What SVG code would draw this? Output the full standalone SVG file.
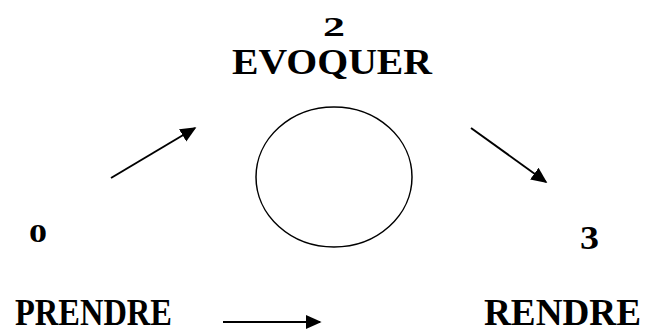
<svg xmlns="http://www.w3.org/2000/svg" width="653" height="332" viewBox="0 0 653 332">
<style>
text{font-family:"Liberation Serif","Times New Roman",serif;font-weight:bold;fill:#000}
.big{font-size:38px}
.evo{font-size:36px}
.num{font-size:28px}
.c{stroke:#000;stroke-width:2;fill:none}
</style>
<defs>
<marker id="ah" viewBox="0 0 10 10" refX="9" refY="5" markerWidth="8" markerHeight="8" orient="auto" markerUnits="strokeWidth"><path d="M0,0.5 L10,5 L0,9.5 Z" fill="#000"/></marker>
</defs>
<rect width="653" height="332" fill="#fff"/>
<g id="node-evoquer">
<text class="num" x="323" y="36" textLength="22" lengthAdjust="spacingAndGlyphs">2</text>
<text class="evo" x="232" y="74" textLength="200" lengthAdjust="spacingAndGlyphs">EVOQUER</text>
<ellipse cx="334" cy="177" rx="78" ry="70" fill="none" stroke="#000" stroke-width="1.5"/>
</g>
<g id="node-prendre">
<text x="29" y="242" style="font-size:26px" textLength="18" lengthAdjust="spacingAndGlyphs">0</text>
<text class="big" x="15" y="325" textLength="157" lengthAdjust="spacingAndGlyphs">PRENDRE</text>
</g>
<g id="node-rendre">
<text x="580" y="249" style="font-size:34px" textLength="19" lengthAdjust="spacingAndGlyphs">3</text>
<text class="big" x="484" y="325" textLength="157" lengthAdjust="spacingAndGlyphs">RENDRE</text>
</g>
<g id="connectors">
<line class="c" x1="111" y1="178" x2="195" y2="128" marker-end="url(#ah)"/>
<line class="c" x1="471" y1="128" x2="546" y2="182" marker-end="url(#ah)"/>
<line class="c" x1="223" y1="322" x2="320" y2="322" marker-end="url(#ah)"/>
</g>
</svg>
